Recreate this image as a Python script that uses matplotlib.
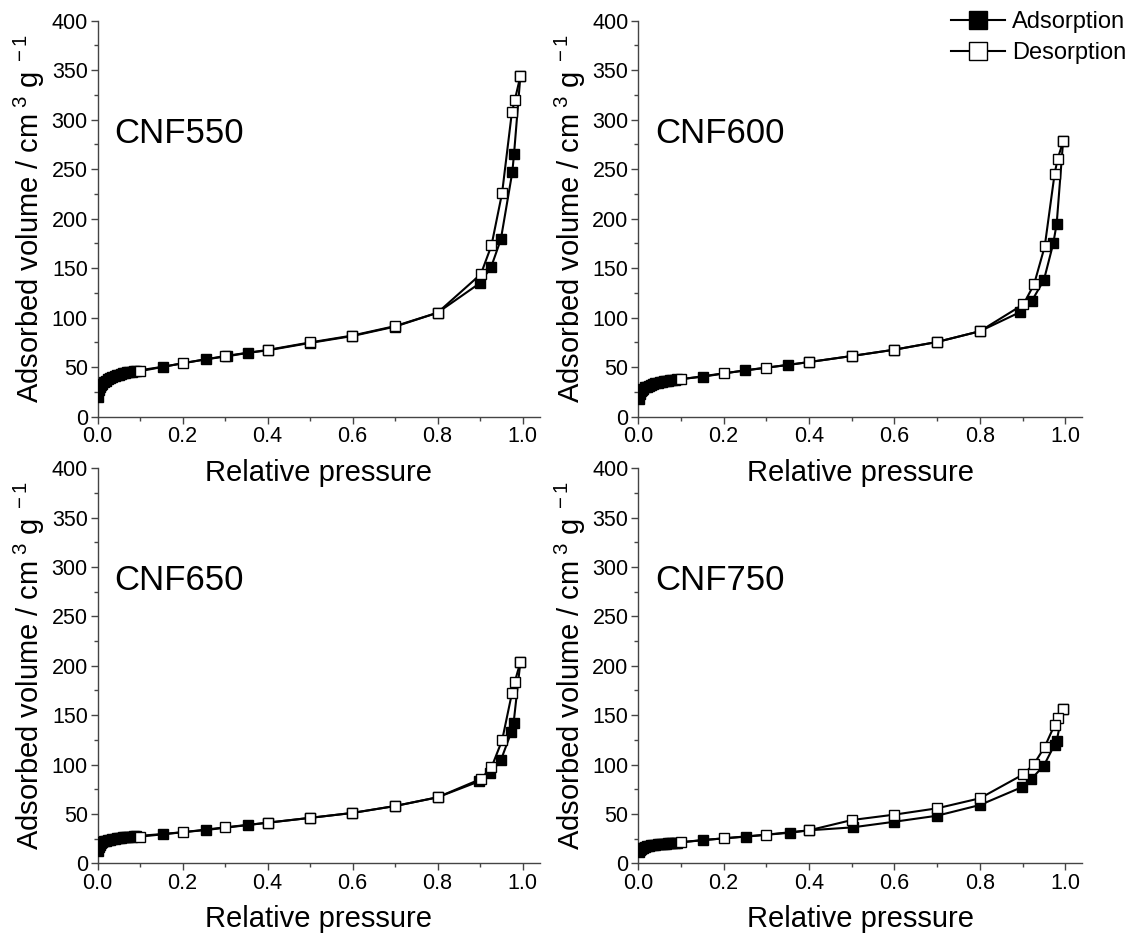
import numpy as np
import matplotlib
matplotlib.use('Agg')
import matplotlib.pyplot as plt
from matplotlib.ticker import MultipleLocator, FormatStrFormatter

plt.rcParams['font.family'] = ['Liberation Sans', 'DejaVu Sans']
plt.rcParams['mathtext.fontset'] = 'custom'
plt.rcParams['mathtext.rm'] = 'Liberation Sans'
plt.rcParams['mathtext.it'] = 'Liberation Sans:italic'

LOW_P = [0.002, 0.004, 0.006, 0.008, 0.01, 0.015, 0.02, 0.025, 0.03, 0.035,
         0.04, 0.045, 0.05, 0.055, 0.06, 0.065, 0.07, 0.075, 0.08, 0.085, 0.09]
DES_P = [0.995, 0.982, 0.975, 0.952, 0.927, 0.902, 0.8, 0.7, 0.6, 0.5,
         0.4, 0.3, 0.2, 0.1]

# CNF550
ads550_p = LOW_P + [0.155, 0.255, 0.305, 0.355, 0.4, 0.5, 0.6, 0.7, 0.8,
                    0.9, 0.926, 0.949, 0.976, 0.98, 0.995]
ads550_v = [20, 27, 30, 32, 33, 35, 36.5, 38, 39, 40, 41, 41.8, 42.5, 43.2,
            43.8, 44.3, 44.8, 45.2, 45.6, 46, 46.3,
            50.5, 58, 61, 64.6, 67, 74.5, 81.5, 91, 105,
            135, 151, 179, 247, 265, 344]
des550_v = [344, 320, 307.5, 226, 173, 144, 105, 91.5, 82, 75,
            67.4, 61.3, 54, 46]

# CNF600
ads600_p = LOW_P + [0.151, 0.25, 0.35, 0.4, 0.5, 0.6, 0.7, 0.8,
                    0.895, 0.922, 0.95, 0.972, 0.98, 0.995]
ads600_v = [18, 23, 25.5, 27, 28, 29.5, 30.5, 31.5, 32.3, 33, 33.6, 34.2,
            34.7, 35.2, 35.6, 36, 36.4, 36.7, 37, 37.3, 37.6,
            40.4, 46.9, 52.2, 55.2, 61.3, 67.7, 75.5, 86.3,
            105.8, 117.2, 138, 175, 195, 278]
des600_v = [278, 260, 245, 172, 133.7, 113.5, 86.3, 75.5, 67.7, 61.3,
            55.2, 49.5, 43.8, 37.8]

# CNF650
ads650_p = LOW_P + [0.155, 0.255, 0.355, 0.4, 0.5, 0.6, 0.7, 0.8,
                    0.898, 0.924, 0.949, 0.974, 0.979, 0.995]
ads650_v = [12, 17, 19, 20.5, 21.2, 22.2, 23, 23.6, 24.1, 24.6, 25, 25.3,
            25.6, 25.9, 26.2, 26.5, 26.7, 26.9, 27.1, 27.3, 27.5,
            29.7, 33.7, 38.8, 41.1, 46, 51, 58, 66.8,
            83, 91.1, 104.3, 133.3, 141.8, 203.8]
des650_v = [203.8, 184, 172, 124.5, 97.2, 85.4, 66.8, 58, 51, 46,
            41.1, 36.4, 31.4, 27]

# CNF750
ads750_p = LOW_P + [0.152, 0.252, 0.355, 0.4, 0.502, 0.6, 0.7, 0.8,
                    0.898, 0.92, 0.95, 0.975, 0.98, 0.995]
ads750_v = [11, 13.5, 14.8, 15.5, 16, 16.8, 17.3, 17.8, 18.2, 18.5, 18.8,
            19.1, 19.3, 19.5, 19.7, 19.9, 20.1, 20.3, 20.5, 20.7, 20.9,
            23.6, 27, 31, 33.4, 36.4, 42.1, 48.2, 59,
            77, 85, 99, 120, 124, 156]
des750_v = [156, 147, 140, 118, 100.6, 90.1, 65.8, 55.7, 49.3, 43.8,
            33.4, 29, 25.3, 21.3]

SAMPLES = ['CNF550', 'CNF600', 'CNF650', 'CNF750']
ADS_P = [ads550_p, ads600_p, ads650_p, ads750_p]
ADS_V = [ads550_v, ads600_v, ads650_v, ads750_v]
DES_V = [des550_v, des600_v, des650_v, des750_v]

fig = plt.figure(figsize=(11.34, 9.39), dpi=100)
W, H = 1134, 939
# axes rectangles in pixels: (left, bottom_from_top, width, height)
rects = [(97.5, 416.7, 442, 396), (638.3, 416.7, 444, 396),
         (97.5, 863.3, 442, 395), (638.3, 863.3, 444, 395)]

axes = []
for i, (l, b, w, h) in enumerate(rects):
    ax = fig.add_axes([l / W, 1 - b / H, w / W, h / H])
    ax.patch.set_visible(False)
    axes.append(ax)
    ax.plot(ADS_P[i], ADS_V[i], '-s', color='black', lw=1.5, ms=6.5,
            mfc='black', mec='black', mew=1, label='Adsorption', zorder=3)
    ax.plot(DES_P, DES_V[i], '-s', color='black', lw=1.5, ms=6.5,
            mfc='white', mec='black', mew=1, label='Desorption', zorder=4)
    ax.set_xlim(0, 1.04)
    ax.set_ylim(0, 400)
    ax.xaxis.set_major_locator(MultipleLocator(0.2))
    ax.xaxis.set_minor_locator(MultipleLocator(0.1))
    ax.yaxis.set_major_locator(MultipleLocator(50))
    ax.yaxis.set_minor_locator(MultipleLocator(25))
    ax.xaxis.set_major_formatter(FormatStrFormatter('%.1f'))
    for s in ['top', 'right']:
        ax.spines[s].set_visible(False)
    for s in ['left', 'bottom']:
        ax.spines[s].set_color('#444444')
        ax.spines[s].set_linewidth(1.0)
    ax.tick_params(which='major', direction='out', length=5, width=1,
                   color='#444444', labelsize=15.5, pad=2)
    ax.tick_params(which='minor', direction='out', length=3, width=1,
                   color='#444444')
    ax.set_xlabel('Relative pressure', fontsize=21, labelpad=8)
    ax.set_ylabel(r'Adsorbed volume / cm$^{\ 3}$ g$^{\ -1}$', fontsize=21,
                  labelpad=3)
    ax.text(0.04, 286, SAMPLES[i], fontsize=25, va='center', ha='left')

h, lab = axes[0].get_legend_handles_labels()
fig.legend(h, lab, loc='upper right', bbox_to_anchor=(1.008, 1.006),
           frameon=False, fontsize=17, markerscale=1.9, handlelength=2.3,
           handletextpad=0.3, labelspacing=0.4, borderaxespad=0.3)

fig.savefig('out.png', dpi=100)
